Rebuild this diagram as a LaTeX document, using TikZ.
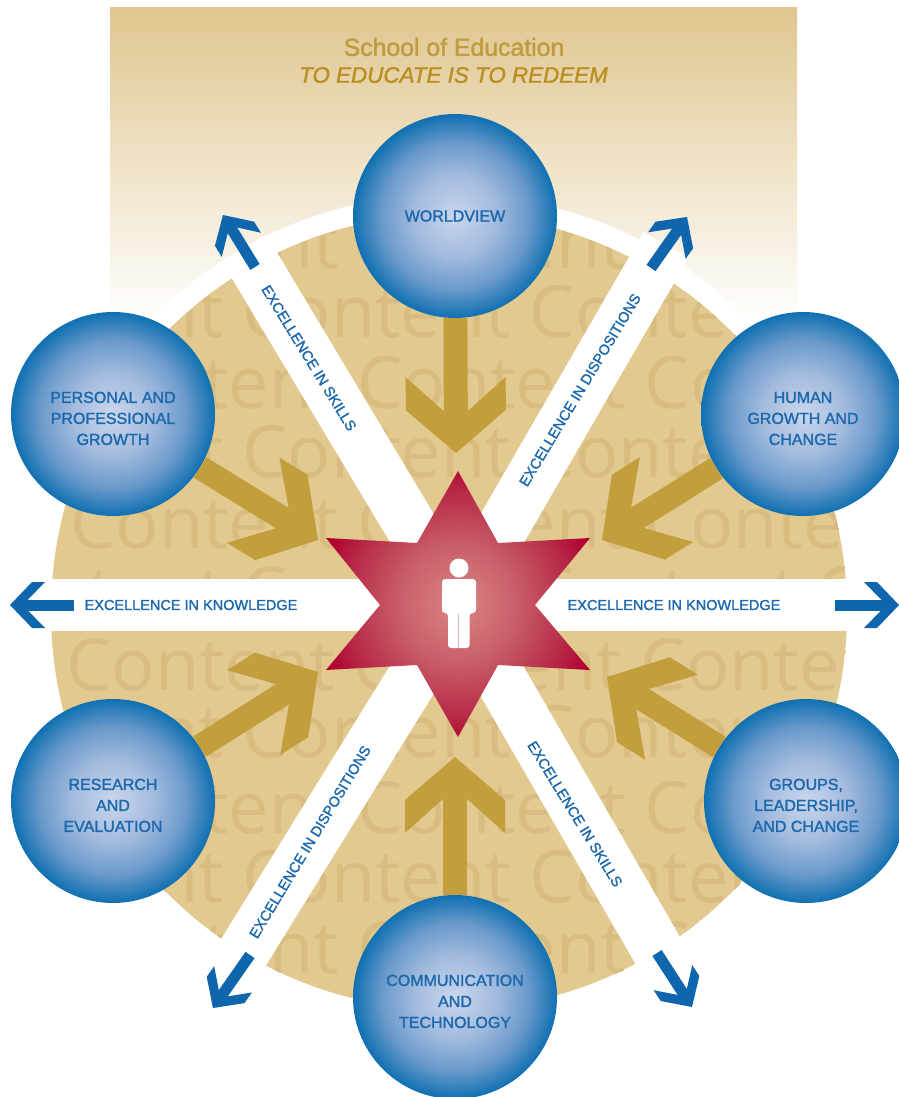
\documentclass[tikz,border=0pt]{standalone}
\usepackage{fontspec}
\usetikzlibrary{arrows.meta}
\setmainfont{Liberation Sans}[FakeBold=1.5]
\newfontfamily\wmfont{Open Sans}
\definecolor{discC}{HTML}{E1C98F}
\definecolor{wmC}{HTML}{D9BC7F}
\definecolor{goldC}{HTML}{C29E3C}
\definecolor{blueC}{HTML}{0F66AC}
\definecolor{txtC}{HTML}{1B68AD}
\definecolor{rectC}{HTML}{E0C68F}
\definecolor{titleC}{HTML}{BF9C3E}
\definecolor{mottoC}{HTML}{B98F22}
\definecolor{gapC}{HTML}{D67F80}
\definecolor{ballA}{HTML}{CAD6EC}
\definecolor{ballB}{HTML}{A3BBDE}
\definecolor{ballC}{HTML}{6A9ACB}
\definecolor{ballD}{HTML}{1070B2}
\definecolor{starA}{HTML}{DA8686}
\definecolor{starB}{HTML}{C95F69}
\definecolor{starC}{HTML}{B72A47}
\definecolor{starD}{HTML}{B00030}
\pgfdeclareradialshading{ballshade}{\pgfpointorigin}{%
  color(0bp)=(ballA);
  color(10bp)=(ballB);
  color(18bp)=(ballC);
  color(25bp)=(ballD);
  color(50bp)=(ballD)}
\pgfdeclareradialshading{starshade}{\pgfpointorigin}{%
  color(0bp)=(starA);
  color(11bp)=(starB);
  color(21bp)=(starC);
  color(27bp)=(starD);
  color(50bp)=(starD)}
\pgfdeclarearrow{
  name=GoldChev,
  setup code={
    \pgfarrowssettipend{0pt}
    \pgfarrowssetlineend{-40pt}
    \pgfarrowssetvisualbackend{-60pt}
    \pgfarrowssetbackend{-76pt}
  },
  drawing code={
    \pgfpathmoveto{\pgfqpoint{0pt}{0pt}}
    \pgfpathlineto{\pgfqpoint{-43pt}{50pt}}
    \pgfpathlineto{\pgfqpoint{-76pt}{50pt}}
    \pgfpathlineto{\pgfqpoint{-41pt}{11pt}}
    \pgfpathlineto{\pgfqpoint{-41pt}{-11pt}}
    \pgfpathlineto{\pgfqpoint{-76pt}{-50pt}}
    \pgfpathlineto{\pgfqpoint{-43pt}{-50pt}}
    \pgfpathclose
    \pgfusepathqfill
  }
}
\pgfdeclarearrow{
  name=BlueChev,
  setup code={
    \pgfarrowssettipend{0pt}
    \pgfarrowssetlineend{-16pt}
    \pgfarrowssetvisualbackend{-20pt}
    \pgfarrowssetbackend{-35pt}
  },
  drawing code={
    \pgfpathmoveto{\pgfqpoint{0pt}{0pt}}
    \pgfpathlineto{\pgfqpoint{-22pt}{23pt}}
    \pgfpathlineto{\pgfqpoint{-35pt}{23pt}}
    \pgfpathlineto{\pgfqpoint{-18pt}{5.5pt}}
    \pgfpathlineto{\pgfqpoint{-18pt}{-5.5pt}}
    \pgfpathlineto{\pgfqpoint{-35pt}{-23pt}}
    \pgfpathlineto{\pgfqpoint{-22pt}{-23pt}}
    \pgfpathclose
    \pgfusepathqfill
  }
}
\tikzset{
  x=1pt,y=-1pt,
  band/.style={white,line width=52pt},
  goldarrow/.style={goldC,line width=24pt,-{GoldChev}},
  bluearrow/.style={blueC,line width=11pt,-{BlueChev}},
  sphere/.style={circle,minimum size=204pt,inner sep=0pt,shading=ballshade,
    text=txtC,align=center,font=\fontsize{16}{21}\selectfont},
  lowered/.style={text height=62pt},
  bandlabel/.style={text=txtC,inner sep=0pt,font=\fontsize{14.5}{17}\selectfont},
  wm/.style={anchor=base west,inner sep=0pt,text=wmC,font=\wmfont\fontsize{72}{80}\selectfont},
}
\begin{document}
\begin{tikzpicture}
\useasboundingbox (0,0) rectangle (899,1097);
\clip (0,0) rectangle (899,1097);
\fill[white] (0,0) rectangle (899,1097);
% backdrop
\shade[top color=rectC,bottom color=white] (110,8) rectangle (797,322);
\fill[white] (449,612) circle[radius=418];
\fill[discC] (449,612) circle[radius=398];
% watermark
\begin{scope}
\clip (449,612) circle[radius=398];
\foreach \i/\px/\py in {1/70/268,2/-45/337,3/70/408,4/-45/477,5/70/548,6/-45/618,7/66/690,8/-45/757,9/70/833,10/-45/902,11/70/973}
  \node[wm] (wm\i) at (\px,\py) {Content Content Content Content};
\end{scope}
% anchors
\coordinate (hub) at (458,605);
\coordinate (bandUL) at (244,248);
\coordinate (bandUR) at (666,245);
\coordinate (bandL) at (0,605);
\coordinate (bandR) at (899,605);
\coordinate (bandLL) at (227,979);
\coordinate (bandLR) at (676,982);
\draw[band] (hub) -- (bandUL);
\draw[band] (hub) -- (bandUR);
\draw[band] (hub) -- (bandL);
\draw[band] (hub) -- (bandR);
\draw[band] (hub) -- (bandLL);
\draw[band] (hub) -- (bandLR);
% spheres
\node[sphere] (worldview) at (455,216) {WORLDVIEW};
\node[sphere,lowered] (personal) at (113,414) {PERSONAL AND\\PROFESSIONAL\\GROWTH};
\node[sphere,lowered] (human) at (803,414) {HUMAN\\GROWTH AND\\CHANGE};
\node[sphere,lowered] (research) at (113,801) {RESEARCH\\AND\\EVALUATION};
\node[sphere,lowered] (groups) at (806,801) {GROUPS,\\LEADERSHIP,\\AND CHANGE};
\node[sphere,lowered] (comm) at (455,997) {COMMUNICATION\\AND\\TECHNOLOGY};
% gold connectors
\coordinate (tipT) at (456,453);
\coordinate (tipB) at (455,757);
\coordinate (tipUL) at (318,540);
\coordinate (tipLL) at (318,672);
\coordinate (tipUR) at (602,540);
\coordinate (tipLR) at (607,677);
\draw[goldarrow] (worldview) -- (tipT);
\draw[goldarrow] (comm) -- (tipB);
\draw[goldarrow] (personal) -- (tipUL);
\draw[goldarrow] (research) -- (tipLL);
\draw[goldarrow] (human) -- (tipUR);
\draw[goldarrow] (groups) -- (tipLR);
% blue arrows
\coordinate (bL0) at (74,605); \coordinate (bL1) at (10,605);
\coordinate (bR0) at (835,605); \coordinate (bR1) at (899,605);
\coordinate (bUL0) at (255,267); \coordinate (bUL1) at (223,215);
\coordinate (bUR0) at (651,268); \coordinate (bUR1) at (687,217);
\coordinate (bLL0) at (250,955); \coordinate (bLL1) at (213,1008);
\coordinate (bLR0) at (657,953); \coordinate (bLR1) at (692,1007);
\draw[bluearrow] (bL0) -- (bL1);
\draw[bluearrow] (bR0) -- (bR1);
\draw[bluearrow] (bUL0) -- (bUL1);
\draw[bluearrow] (bUR0) -- (bUR1);
\draw[bluearrow] (bLL0) -- (bLL1);
\draw[bluearrow] (bLR0) -- (bLR1);
% star
\path[shading=starshade] (458,471) -- (498,543) -- (590,538) -- (535,605) -- (590,670) -- (498,665) -- (458,737) -- (417,665) -- (326,670) -- (380,605) -- (326,538) -- (417,543) -- cycle;
% person
\fill[white] (459,568) circle[radius=9.5];
\fill[white,rounded corners=3pt] (442,613) -- (442,579) -- (476,579) -- (476,613) -- (469.5,613) -- (469.5,648) -- (448,648) -- (448,613) -- cycle;
\draw[gapC,line width=0.7pt,opacity=0.6] (458.8,614) -- (458.8,650);
% band labels
\node[bandlabel] (kl) at (191,605) {EXCELLENCE IN KNOWLEDGE};
\node[bandlabel] (kr) at (674,605) {EXCELLENCE IN KNOWLEDGE};
\node[bandlabel,rotate=-58.5] (su) at (309,358) {EXCELLENCE IN SKILLS};
\node[bandlabel,rotate=59] (du) at (580,390) {EXCELLENCE IN DISPOSITIONS};
\node[bandlabel,rotate=59] (dl) at (310,842) {EXCELLENCE IN DISPOSITIONS};
\node[bandlabel,rotate=-58.5] (sl) at (575,814) {EXCELLENCE IN SKILLS};
% titles
\node[text=titleC,inner sep=0pt,font=\fontsize{24.8}{28}\selectfont] (title) at (454,47) {School of Education};
\node[text=mottoC,inner sep=0pt,font=\itshape\fontsize{22.4}{28}\selectfont] (motto) at (453.5,75) {TO EDUCATE IS TO REDEEM};
\end{tikzpicture}
\end{document}
